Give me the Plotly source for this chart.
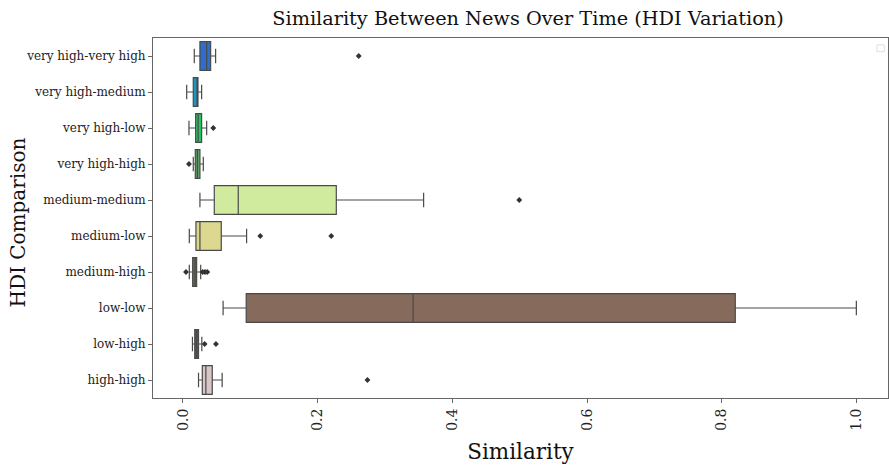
import plotly.graph_objects as go

categories = ["very high-very high", "very high-medium", "very high-low", "very high-high",
              "medium-medium", "medium-low", "medium-high", "low-low", "low-high", "high-high"]
lower_fence = [0.0168, 0.0055, 0.0089, 0.0153, 0.0252, 0.0094, 0.0094, 0.0596, 0.0141, 0.0231]
q1 =          [0.0252, 0.0153, 0.0188, 0.0183, 0.0465, 0.0193, 0.0144, 0.0939, 0.0175, 0.0287]
median =      [0.0352, 0.0210, 0.0225, 0.0215, 0.0821, 0.0252, 0.0180, 0.3418, 0.0200, 0.0340]
q3 =          [0.0411, 0.0223, 0.0277, 0.0252, 0.2277, 0.0569, 0.0203, 0.8202, 0.0231, 0.0435]
upper_fence = [0.0485, 0.0277, 0.0352, 0.0302, 0.3574, 0.0945, 0.0263, 1.0000, 0.0280, 0.0582]
outliers = {
    "very high-very high": [0.261],
    "very high-low": [0.045],
    "very high-high": [0.0089],
    "medium-medium": [0.4994],
    "medium-low": [0.1148, 0.2202],
    "medium-high": [0.0045, 0.0292, 0.0327, 0.0361],
    "low-high": [0.0322, 0.049],
    "high-high": [0.274],
}
colors = ["#2f6fcb", "#1c97c2", "#27c462", "#5e9f69", "#d0eb9e",
          "#ddd88f", "#6f6556", "#866a5c", "#5a5553", "#d6c6c5"]

FONT = "DejaVu Serif"
fig = go.Figure()
for i, cat in enumerate(categories):
    fig.add_trace(go.Box(
        y=[cat], q1=[q1[i]], median=[median[i]], q3=[q3[i]],
        lowerfence=[lower_fence[i]], upperfence=[upper_fence[i]],
        orientation="h", fillcolor=colors[i],
        line=dict(color="#4a4a4a", width=1.2), boxpoints=False,
        width=0.8, whiskerwidth=0.5, showlegend=False, name=cat,
    ))
ox, oy = [], []
for cat, vals in outliers.items():
    for v in vals:
        ox.append(v)
        oy.append(cat)
fig.add_trace(go.Scatter(x=ox, y=oy, mode="markers",
                         marker=dict(symbol="diamond", size=4.5, color="#333333"),
                         showlegend=False))

fig.update_layout(
    width=889, height=465,
    margin=dict(l=153, r=1, t=38, b=67),
    paper_bgcolor="white", plot_bgcolor="white",
    font=dict(family=FONT, color="#222222"),
    title=dict(text="Similarity Between News Over Time (HDI Variation)",
               x=528 / 889, xanchor="center", y=1 - 18 / 465, yanchor="middle",
               font=dict(family=FONT, size=19.3, color="#111111")),
    boxmode="overlay",
    shapes=[dict(type="rect", xref="paper", yref="paper", x0=0.985, x1=0.995, y0=0.962, y1=0.981,
                 line=dict(color="#dddddd", width=1), fillcolor="white")],
    annotations=[dict(text="HDI Comparison", xref="paper", yref="paper",
                      x=(18 - 153) / 735, y=(397 - 222) / 359, xanchor="center", yanchor="middle",
                      textangle=-90, showarrow=False,
                      font=dict(family=FONT, size=20, color="#111111"))],
)
fig.update_xaxes(
    range=[-0.0445, 1.047], showgrid=False, zeroline=False,
    showline=True, linecolor="#666666", linewidth=1, mirror=True,
    ticks="outside", ticklen=4, tickcolor="#666666",
    tickvals=[0.0, 0.2, 0.4, 0.6, 0.8, 1.0], ticktext=["0.0", "0.2", "0.4", "0.6", "0.8", "1.0"],
    tickangle=-90, tickfont=dict(family=FONT, size=14, color="#222222"),
    title=dict(text="Similarity", font=dict(family=FONT, size=21.5, color="#111111"), standoff=14),
)
fig.update_yaxes(
    type="category", categoryorder="array", categoryarray=categories,
    range=[9.5, -0.5], showgrid=False, zeroline=False,
    showline=True, linecolor="#666666", linewidth=1, mirror=True,
    ticks="outside", ticklen=4, tickcolor="#666666",
    tickfont=dict(family=FONT, size=12, color="#222222"),
)
fig.write_html("out.html")
